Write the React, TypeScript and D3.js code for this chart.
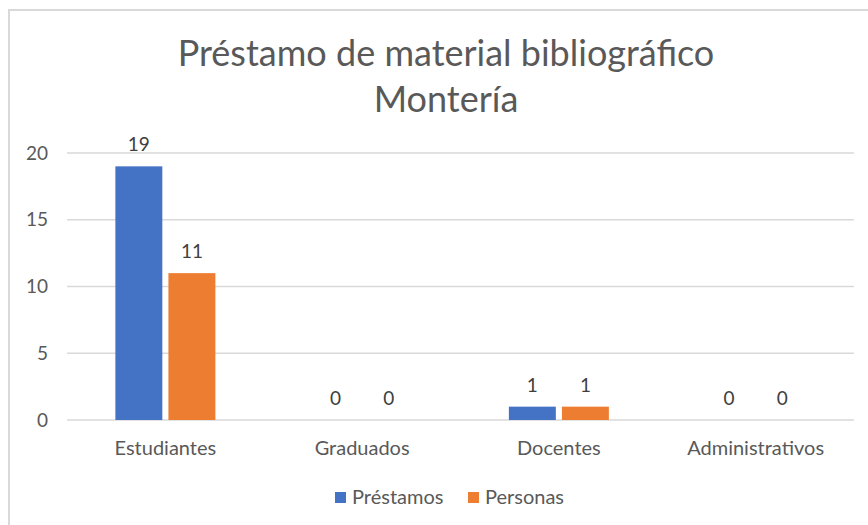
import React, { useEffect, useRef } from 'react';
import * as d3 from 'd3';

// Data
const categories = ['Estudiantes', 'Graduados', 'Docentes', 'Administrativos'];
const prestamos = [19, 0, 1, 0];
const personas = [11, 0, 1, 0];
const seriesNames = ['Préstamos', 'Personas'];
const seriesColors = ['#4472C4', '#ED7D31'];
const yTicks = [0, 5, 10, 15, 20];
const titleLines = ['Préstamo de material bibliográfico', 'Montería'];

const W = 868;
const H = 525;
const margin = { top: 153, right: 14, bottom: 105, left: 67 };
const FONT = 'Lato, "Open Sans", sans-serif';

function App() {
    const ref = useRef(null);

    useEffect(() => {
        document.body.style.margin = '0';
        document.body.style.overflow = 'hidden';

        const svg = d3.select(ref.current).html('')
            .attr('width', W)
            .attr('height', H);

        svg.append('rect').attr('width', W).attr('height', H).attr('fill', '#fff');

        // chart frame (cropped at right and bottom)
        svg.append('path')
            .attr('d', `M9,${H + 5}V10H${W + 5}`)
            .attr('fill', 'none')
            .attr('stroke', '#d9d9d9')
            .attr('stroke-width', 2);

        // title
        svg.append('g').selectAll('text').data(titleLines).join('text')
            .attr('x', 446)
            .attr('y', (d, i) => 66 + i * 46)
            .attr('text-anchor', 'middle')
            .attr('font-family', FONT)
            .attr('font-size', 36)
            .attr('fill', '#595959')
            .text((d) => d);

        const x0 = d3.scaleBand()
            .domain(categories)
            .range([margin.left, W - margin.right])
            .paddingInner(0)
            .paddingOuter(0);

        const y = d3.scaleLinear()
            .domain([0, 20])
            .range([420, margin.top]);

        const x1 = d3.scaleBand()
            .domain(seriesNames)
            .range([0, 100])
            .paddingInner(0.115);

        // gridlines
        svg.append('g').selectAll('line').data(yTicks).join('line')
            .attr('x1', margin.left)
            .attr('x2', W - margin.right)
            .attr('y1', (d) => y(d))
            .attr('y2', (d) => y(d))
            .attr('stroke', '#d9d9d9')
            .attr('stroke-width', 1.5);

        // y tick labels
        svg.append('g').selectAll('text').data(yTicks).join('text')
            .attr('x', 48)
            .attr('y', (d) => y(d))
            .attr('dy', '0.35em')
            .attr('text-anchor', 'end')
            .attr('font-family', FONT)
            .attr('font-size', 19)
            .attr('fill', '#595959')
            .text((d) => d);

        const series = [prestamos, personas];

        series.forEach((vals, si) => {
            const g = svg.append('g');
            const xPos = (i) => x0(categories[i]) + x0.bandwidth() / 2 - 50 + x1(seriesNames[si]);
            g.selectAll('rect').data(vals).join('rect')
                .attr('x', (d, i) => xPos(i))
                .attr('y', (d) => y(d))
                .attr('width', x1.bandwidth())
                .attr('height', (d) => y(0) - y(d))
                .attr('fill', seriesColors[si]);
            g.selectAll('text').data(vals).join('text')
                .attr('x', (d, i) => xPos(i) + x1.bandwidth() / 2)
                .attr('y', (d) => y(d) - 15)
                .attr('text-anchor', 'middle')
                .attr('font-family', FONT)
                .attr('font-size', 19)
                .attr('fill', '#404040')
                .text((d) => d);
        });

        // category labels
        svg.append('g').selectAll('text').data(categories).join('text')
            .attr('x', (d) => x0(d) + x0.bandwidth() / 2)
            .attr('y', 455)
            .attr('text-anchor', 'middle')
            .attr('font-family', FONT)
            .attr('font-size', 20)
            .attr('fill', '#595959')
            .text((d) => d);

        // legend
        const legend = svg.append('g');
        const legendX = [335, 468];
        seriesNames.forEach((name, i) => {
            legend.append('rect')
                .attr('x', legendX[i])
                .attr('y', 492)
                .attr('width', 11)
                .attr('height', 11)
                .attr('fill', seriesColors[i]);
            legend.append('text')
                .attr('x', legendX[i] + 17)
                .attr('y', 504)
                .attr('font-family', FONT)
                .attr('font-size', 20)
                .attr('fill', '#595959')
                .text(name);
        });
    }, []);

    return <svg ref={ref}></svg>;
}

export default App;
